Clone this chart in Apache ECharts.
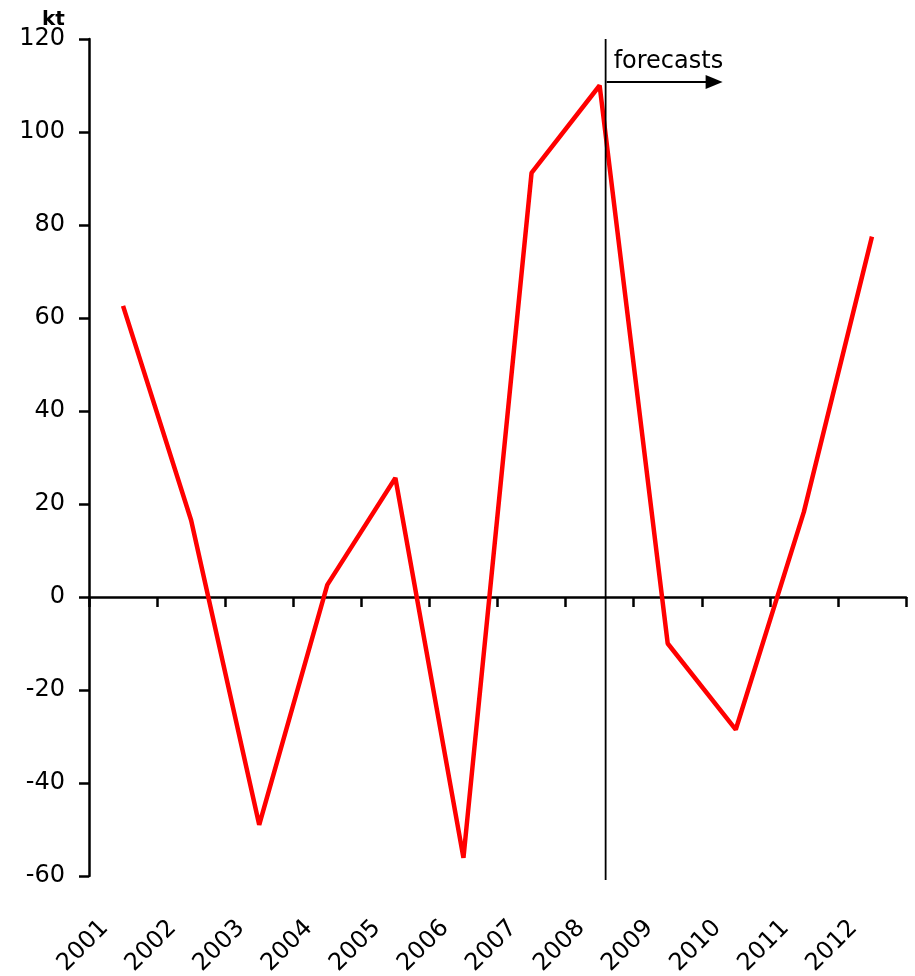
<!DOCTYPE html>
<html>
<head>
<meta charset="utf-8">
<script src="https://cdn.jsdelivr.net/npm/echarts@6/dist/echarts.min.js"></script>
<style>html,body{margin:0;padding:0;background:#fff}#c{width:915px;height:976px}</style>
</head>
<body>
<div id="c"></div>
<script>
// ---- data ----
const years = ['2001','2002','2003','2004','2005','2006','2007','2008','2009','2010','2011','2012'];
const netChange = [62.6, 16.5, -49.0, 2.6, 25.6, -56.1, 91.2, 110.0, -10.0, -28.5, 18.3, 77.5];
const yMin = -60, yMax = 120, yStep = 20;
const forecastStart = '2008';
const unitLabel = 'kt';
const annotationText = 'forecasts';

const FONT = 'DejaVu Sans';
const chart = echarts.init(document.getElementById('c'), null, {renderer: 'canvas'});
chart.setOption({
  animation: false,
  backgroundColor: '#fff',
  title: {text: unitLabel, left: 37, top: 5, textStyle: {fontFamily: FONT, fontWeight: 'bold', fontSize: 20, color: '#000'}},
  grid: {left: 89, right: 9, top: 39, bottom: 100, containLabel: false, outerBoundsMode: 'none'},
  xAxis: [
    {type: 'category', data: years, position: 'bottom', boundaryGap: true,
     axisLine: {onZero: true, lineStyle: {color: '#000', width: 2.5}},
     axisTick: {show: true, length: 10, inside: false, lineStyle: {color: '#000', width: 2.5}},
     axisLabel: {show: false}, splitLine: {show: false}},
    {type: 'category', data: years, position: 'bottom', boundaryGap: true,
     axisLine: {show: false, onZero: false}, axisTick: {show: false}, splitLine: {show: false},
     axisLabel: {show: true, interval: 0, rotate: 45, margin: 47, verticalAlign: 'bottom', padding: [0, 14, 0, 0],
                 fontFamily: FONT, fontSize: 24, color: '#000'}}
  ],
  yAxis: {type: 'value', min: yMin, max: yMax, interval: yStep,
    axisLine: {show: true, lineStyle: {color: '#000', width: 2.5}},
    axisTick: {show: true, length: 10, inside: false, lineStyle: {color: '#000', width: 2.5}},
    axisLabel: {margin: 24, fontFamily: FONT, fontSize: 24, color: '#000'},
    splitLine: {show: false}},
  series: [{type: 'line', data: netChange, xAxisIndex: 0, yAxisIndex: 0, symbol: 'none', showSymbol: false,
            lineStyle: {color: '#ff0000', width: 4.5}, z: 3}]
});

const xDiv = chart.convertToPixel({xAxisIndex: 0}, forecastStart) + 6;
const yTop = chart.convertToPixel({yAxisIndex: 0}, yMax);
const yBot = chart.convertToPixel({yAxisIndex: 0}, yMin);
const yArrow = yTop + 43;
chart.setOption({graphic: [
  {type: 'line', shape: {x1: xDiv, y1: yTop, x2: xDiv, y2: yBot + 4}, style: {stroke: '#000', lineWidth: 1.8}, z: 10},
  {type: 'line', shape: {x1: xDiv + 1, y1: yArrow, x2: xDiv + 102, y2: yArrow}, style: {stroke: '#000', lineWidth: 2.2}, z: 10},
  {type: 'polygon', shape: {points: [[xDiv + 100, yArrow - 7], [xDiv + 117, yArrow], [xDiv + 100, yArrow + 7]]}, style: {fill: '#000'}, z: 10},
  {type: 'text', x: xDiv + 8, y: yArrow - 8, style: {text: annotationText, fontFamily: FONT, fontSize: 24, fill: '#000', verticalAlign: 'bottom'}, z: 10}
]});
</script>
</body>
</html>
